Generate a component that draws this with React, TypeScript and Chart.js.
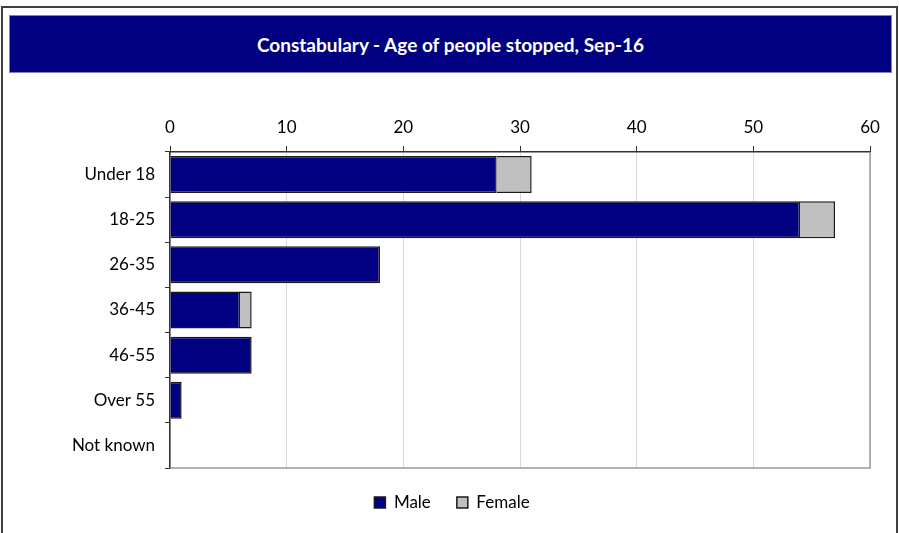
import React, { useEffect, useRef } from "react";
import { Chart, registerables } from "chart.js";

Chart.register(...registerables);

const TITLE = "Constabulary - Age of people stopped, Sep-16";
const categories = ["Under 18", "18-25", "26-35", "36-45", "46-55", "Over 55", "Not known"];
const maleValues = [28, 54, 18, 6, 7, 1, 0];
const femaleValues = [3, 3, 0, 1, 0, 0, 0];
const xTickMax = 60;
const xTickStep = 10;

const FONT = "Lato, 'Open Sans', sans-serif";

const plotBorder = {
  id: "plotBorder",
  beforeDatasetsDraw(chart: any) {
    const { ctx, chartArea } = chart;
    ctx.save();
    ctx.strokeStyle = "#999999";
    ctx.lineWidth = 1.5;
    ctx.beginPath();
    ctx.moveTo(chartArea.right, chartArea.top);
    ctx.lineTo(chartArea.right, chartArea.bottom);
    ctx.lineTo(chartArea.left, chartArea.bottom);
    ctx.stroke();
    ctx.restore();
  },
};

export default function App() {
  const ref = useRef<HTMLCanvasElement | null>(null);

  useEffect(() => {
    if (!ref.current) return;
    const chart = new Chart(ref.current, {
      type: "bar",
      data: {
        labels: categories,
        datasets: [
          {
            label: "Male",
            data: maleValues,
            backgroundColor: "#000080",
            borderColor: "#1a1a1a",
            borderWidth: 1.5,
            barPercentage: 0.82,
            categoryPercentage: 1,
          },
          {
            label: "Female",
            data: femaleValues,
            backgroundColor: "#c0c0c0",
            borderColor: "#1a1a1a",
            borderWidth: 1.5,
            barPercentage: 0.82,
            categoryPercentage: 1,
          },
        ],
      },
      plugins: [plotBorder],
      options: {
        indexAxis: "y",
        animation: false,
        responsive: false,
        maintainAspectRatio: false,
        layout: { padding: { left: 34, right: 29, top: 100, bottom: 12 } },
        plugins: {
          title: { display: false },
          tooltip: { enabled: false },
          legend: {
            position: "bottom",
            labels: {
              boxWidth: 11,
              boxHeight: 11,
              padding: 26,
              color: "#000",
              font: { family: FONT, size: 17 },
            },
          },
        },
        scales: {
          x: {
            position: "top",
            stacked: true,
            min: 0,
            max: xTickMax,
            ticks: {
              stepSize: xTickStep,
              color: "#000",
              padding: 8,
              font: { family: FONT, size: 17 },
            },
            grid: {
              color: "#d9d9d9",
              tickColor: "#333333",
              tickLength: 6,
              lineWidth: 1,
            },
            border: { display: true, color: "#333333", width: 1.5 },
            afterFit: (scale: any) => {
              scale.height = 52;
            },
          },
          y: {
            stacked: true,
            ticks: {
              color: "#000",
              padding: 10,
              font: { family: FONT, size: 17 },
            },
            grid: {
              display: true,
              offset: true,
              drawOnChartArea: false,
              tickColor: "#333333",
              tickLength: 5,
            },
            border: { display: true, color: "#333333", width: 1.5 },
            afterFit: (scale: any) => {
              scale.width = 136;
            },
          },
        },
      },
    });
    return () => chart.destroy();
  }, []);

  return (
    <div
      style={{
        position: "fixed",
        left: 0,
        top: 0,
        width: 899,
        height: 533,
        overflow: "hidden",
        background: "#ffffff",
      }}
    >
      <div
        style={{
          position: "absolute",
          left: 1,
          top: 6,
          width: 897,
          height: 600,
          boxSizing: "border-box",
          border: "2px solid #404040",
        }}
      />
      <div
        style={{
          position: "absolute",
          left: 9,
          top: 15,
          width: 883,
          height: 58,
          boxSizing: "border-box",
          background: "#000080",
          border: "1px solid #8080c0",
          color: "#ffffff",
          fontFamily: FONT,
          fontWeight: 700,
          fontSize: 19,
          lineHeight: "58px",
          textAlign: "center",
        }}
      >
        {TITLE}
      </div>
      <canvas
        ref={ref}
        width={899}
        height={533}
        style={{ position: "absolute", left: 0, top: 0, width: 899, height: 533 }}
      />
    </div>
  );
}
